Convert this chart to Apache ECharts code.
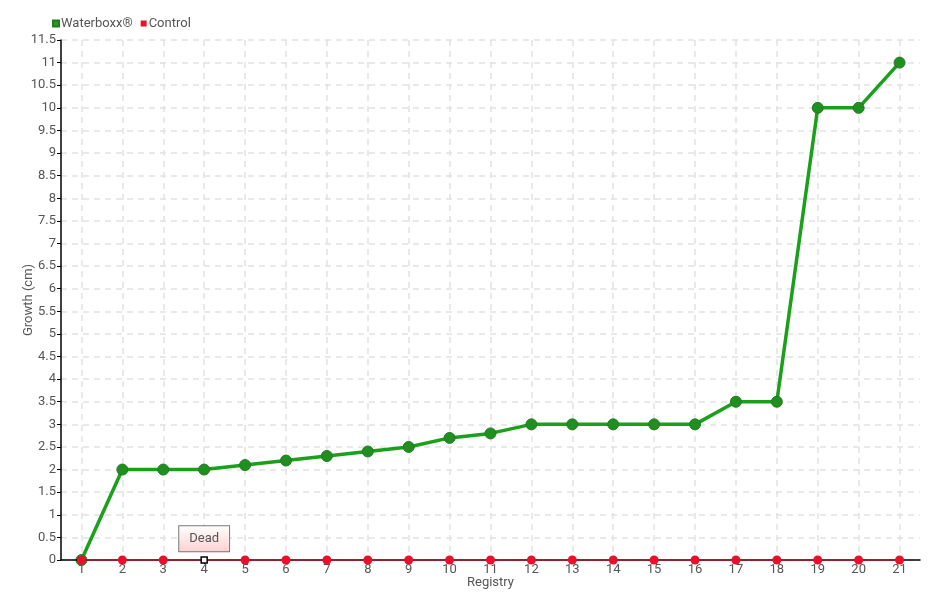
<!DOCTYPE html>
<html><head><meta charset="utf-8">
<script src="https://cdn.jsdelivr.net/npm/echarts@6/dist/echarts.min.js"></script>
<style>html,body{margin:0;padding:0;background:#fff}#c{width:940px;height:600px}</style>
</head><body><div id="c"></div>
<script>
const categories = ['1','2','3','4','5','6','7','8','9','10','11','12','13','14','15','16','17','18','19','20','21'];
const waterboxx = [0,2,2,2,2.1,2.2,2.3,2.4,2.5,2.7,2.8,3,3,3,3,3,3.5,3.5,10,10,11];
const control = [0,0,0,0,0,0,0,0,0,0,0,0,0,0,0,0,0,0,0,0,0];
const deadIndex = 3;
const deadLabel = 'Dead';
const FONT = 'Roboto,sans-serif';
const GRID = '#e2e2e2';
// helper axis: half-step slots so split lines fall on category centres
const halfSteps = Array.from({length: categories.length*2+1}, () => '');
const chart = echarts.init(document.getElementById('c'));
const controlData = control.map((v,i)=> i===deadIndex ? {
  value: v, symbol:'rect', symbolSize:6,
  itemStyle:{color:'#fff', borderColor:'#000', borderWidth:1.5},
  label:{show:true, position:'top', distance:5, formatter:deadLabel, color:'#555', fontFamily:FONT, fontSize:13,
    padding:[6,10,6,10], borderColor:'#777', borderWidth:1,
    backgroundColor:{type:'linear',x:0,y:0,x2:0,y2:1,colorStops:[{offset:0,color:'#fff'},{offset:1,color:'#fcd0d0'}]}}
} : v);
chart.setOption({
  animation:false,
  textStyle:{fontFamily:FONT},
  legend:{left:47, top:12, itemWidth:6, itemHeight:6, itemGap:8, icon:'rect',
    textStyle:{fontFamily:FONT, fontSize:13, color:'#555', padding:[0,0,0,-3]},
    data:[{name:'Waterboxx®', itemStyle:{color:'#1aa01a'}},{name:'Control', itemStyle:{color:'#e8102a'}}]},
  grid:{left:61, right:20, top:40, bottom:40, outerBoundsMode:'none', containLabel:false},
  xAxis:[{type:'category', data:categories, boundaryGap:true, name:'Registry', nameLocation:'middle', nameGap:16, nameMoveOverlap:false,
    nameTextStyle:{fontFamily:FONT, fontSize:13, color:'#555'},
    axisLine:{lineStyle:{color:'#000', width:1.5}},
    axisTick:{show:true, alignWithLabel:true, length:4, lineStyle:{color:'#000'}},
    axisLabel:{fontFamily:FONT, fontSize:13, color:'#555', margin:3},
    splitLine:{show:false}, z:3},
   {type:'category', data:halfSteps, boundaryGap:false, position:'top', show:true,
    axisLine:{show:false}, axisTick:{show:false}, axisLabel:{show:false},
    splitLine:{show:true, interval:(i)=>i%2===1, lineStyle:{color:GRID, type:[6,5], width:1.5}}}],
  yAxis:{type:'value', min:0, max:11.5, interval:0.5, name:'Growth (cm)', nameLocation:'middle', nameGap:26, nameMoveOverlap:false,
    nameTextStyle:{fontFamily:FONT, fontSize:13, color:'#555'},
    axisLine:{show:true, lineStyle:{color:'#000', width:1.5}},
    axisTick:{show:true, length:4, lineStyle:{color:'#000'}},
    axisLabel:{fontFamily:FONT, fontSize:13, color:'#555', margin:5},
    splitLine:{show:true, lineStyle:{color:GRID, type:[6,5], width:1.5}}},
  series:[
    {name:'Waterboxx®', type:'line', data:waterboxx, symbol:'circle', symbolSize:11,
      lineStyle:{color:'#1aa01a', width:3.5}, itemStyle:{color:'#1f8f1f', borderColor:'#237a23', borderWidth:1}, z:2},
    {name:'Control', type:'line', data:controlData, symbol:'circle', symbolSize:9,
      lineStyle:{color:'#d0102a', width:1.5}, itemStyle:{color:'#e8102a'}, z:3}
  ]
});
</script></body></html>
